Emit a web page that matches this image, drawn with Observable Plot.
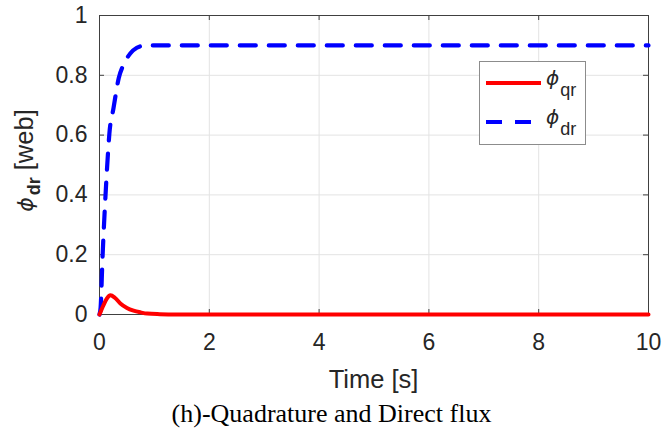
<!DOCTYPE html>
<html>
<head>
<meta charset="utf-8">
<script src="https://cdn.jsdelivr.net/npm/d3@7"></script>
<script src="https://cdn.jsdelivr.net/npm/@observablehq/plot@0.6"></script>
<style>
  body { margin: 0; background: #fff; }
  #wrap { position: relative; width: 663px; height: 431px; overflow: hidden; }
  #caption { position: absolute; left: 0; width: 663px; top: 399px; text-align: center;
    font-family: "Liberation Serif", "Times New Roman", serif; font-size: 26px; color: #000; line-height: 30px; }
</style>
</head>
<body>
<div id="wrap"><div id="caption">(h)-Quadrature and Direct flux</div></div>
<script>
// ---- data ----
const timeDr = [0, 0.02, 0.055, 0.11, 0.146, 0.18, 0.255, 0.35, 0.45, 0.56, 0.68, 0.8, 1.0, 1.5, 2, 3, 4, 5, 6, 7, 8, 9, 10];
const phiDr  = [0, 0.023, 0.19, 0.40, 0.515, 0.605, 0.69, 0.79, 0.84, 0.873, 0.892, 0.899, 0.9, 0.9, 0.9, 0.9, 0.9, 0.9, 0.9, 0.9, 0.9, 0.9, 0.9];
const timeQr = [0, 0.03, 0.07, 0.13, 0.2, 0.28, 0.38, 0.5, 0.62, 0.75, 0.87, 1.1, 1.4, 1.7, 2, 3, 4, 5, 6, 7, 8, 9, 10];
const phiQr  = [0, 0.013, 0.03, 0.052, 0.064, 0.056, 0.037, 0.022, 0.013, 0.007, 0.003, 0.001, 0, 0, 0, 0, 0, 0, 0, 0, 0, 0, 0];
const xTicks = [0, 2, 4, 6, 8, 10];
const yTicks = [0, 0.2, 0.4, 0.6, 0.8, 1];
const xTickLabels = ["0", "2", "4", "6", "8", "10"];
const yTickLabels = ["0", "0.2", "0.4", "0.6", "0.8", "1"];
const seriesNames = ["qr", "dr"];
const seriesColors = ["#ff0000", "#0000ff"];

const qrData = timeQr.map((t, i) => ({t, v: phiQr[i]}));
const drData = timeDr.map((t, i) => ({t, v: phiDr[i]}));

const W = 663, H = 431, mL = 99, mR = 15, mT = 15, mB = 117;
const plotW = W - mL - mR, plotH = H - mT - mB;
const axisColor = "#404040", textColor = "#262626";

const chart = Plot.plot({
  width: W, height: H,
  marginLeft: mL, marginRight: mR, marginTop: mT, marginBottom: mB,
  x: {domain: [0, 10]},
  y: {domain: [0, 1]},
  style: {fontFamily: "'Liberation Sans', Arial, sans-serif", color: textColor, background: "white", overflow: "visible"},
  marks: [
    Plot.ruleX(xTicks, {x: d => d, stroke: "#e3e3e3", strokeWidth: 1}),
    Plot.ruleY(yTicks, {y: d => d, stroke: "#e3e3e3", strokeWidth: 1}),
    Plot.frame({stroke: axisColor, strokeWidth: 1}),
    // inward tick marks on all four sides
    Plot.ruleX(xTicks, {x: d => d, insetTop: plotH - 5, stroke: axisColor}),
    Plot.ruleX(xTicks, {x: d => d, insetBottom: plotH - 5, stroke: axisColor}),
    Plot.ruleY(yTicks, {y: d => d, insetRight: plotW - 5, stroke: axisColor}),
    Plot.ruleY(yTicks, {y: d => d, insetLeft: plotW - 5, stroke: axisColor}),
    Plot.axisX(xTicks, {tickSize: 0, tickPadding: 19, fontSize: 23, label: null, tickFormat: d => xTickLabels[xTicks.indexOf(d)], fill: textColor}),
    Plot.axisY(yTicks, {tickSize: 0, tickPadding: 12, fontSize: 23, label: null, tickFormat: d => yTickLabels[yTicks.indexOf(d)], fill: textColor}),
    Plot.line(drData, {x: "t", y: "v", stroke: seriesColors[1], strokeWidth: 4.2, strokeDasharray: "16,13", curve: "monotone-x"}),
    Plot.line(qrData, {x: "t", y: "v", stroke: seriesColors[0], strokeWidth: 4, curve: "monotone-x"})
  ]
});
chart.style.position = "absolute";
chart.style.left = "0px";
chart.style.top = "0px";
document.getElementById("wrap").prepend(chart);

const svg = d3.select(chart);
const sans = "'Liberation Sans', Arial, sans-serif";
const phiFont = "'DejaVu Sans', sans-serif";

// x label
svg.append("text")
  .attr("x", mL + plotW / 2).attr("y", 388)
  .attr("text-anchor", "middle")
  .attr("font-family", sans).attr("font-size", 25.5).attr("fill", textColor)
  .text("Time [s]");

// y label: ϕ_dr [web]
const yl = svg.append("text")
  .attr("transform", `translate(33,${mT + plotH / 2 - 4}) rotate(-90)`)
  .attr("text-anchor", "middle")
  .attr("font-family", sans).attr("font-size", 25.5).attr("fill", textColor);
yl.append("tspan").attr("font-family", phiFont).attr("font-style", "italic").attr("font-size", 22).text("ϕ");
yl.append("tspan").attr("dy", 7).attr("dx", 2).attr("font-size", 18).attr("font-weight", "bold").text(seriesNames[1]);
yl.append("tspan").attr("dy", -7).attr("dx", 7).text("[web]");

// legend
const lg = svg.append("g");
lg.append("rect").attr("x", 479.5).attr("y", 61.5).attr("width", 106).attr("height", 83)
  .attr("fill", "white").attr("stroke", "#8c8c8c").attr("stroke-width", 1);
const rows = [{y: 83, name: seriesNames[0], color: seriesColors[0], dash: null},
              {y: 122, name: seriesNames[1], color: seriesColors[1], dash: "16,13"}];
rows.forEach(r => {
  lg.append("line").attr("x1", 486).attr("x2", 541).attr("y1", r.y).attr("y2", r.y)
    .attr("stroke", r.color).attr("stroke-width", 4.2)
    .attr("stroke-dasharray", r.dash);
  const t = lg.append("text").attr("x", 546).attr("y", r.y + 2)
    .attr("text-anchor", "start")
    .attr("font-family", sans).attr("font-size", 20).attr("fill", textColor);
  t.append("tspan").attr("font-family", phiFont).attr("font-style", "italic").text("ϕ");
  t.append("tspan").attr("dy", 11).attr("dx", 1).attr("font-size", 18).text(r.name);
});
</script>
</body>
</html>
